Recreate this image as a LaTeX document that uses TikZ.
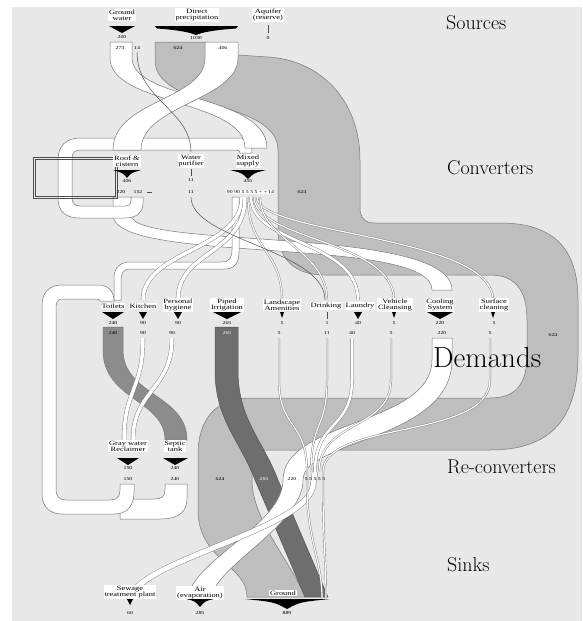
\documentclass[tikz,border=0pt]{standalone}
\usepackage{fontspec}
\newfontfamily\lblfont[FakeStretch=1.3]{Liberation Serif}
\definecolor{bgc}{HTML}{E8E8E8}
\definecolor{gA}{HTML}{BEBEBE}
\definecolor{gD}{HTML}{6E6E6E}
\definecolor{gT}{HTML}{8C8C8C}
\definecolor{edgec}{HTML}{787878}
\tikzset{
  wb/.style={fill=white, draw=edgec, line width=0.5pt},
  gb/.style={fill=gA, draw=edgec, line width=0.5pt},
  db/.style={fill=gD, draw=edgec!70!black, line width=0.5pt},
  tb/.style={fill=gT, draw=edgec, line width=0.5pt},
  tband/.style={draw=edgec, line width=0.4pt, double=white, double distance=#1},
  tband/.default=1.6pt,
  dline/.style={draw=black!70, line width=0.5pt},
  lbl/.style={fill=white, inner sep=0.8pt, align=center, font=\lblfont\fontsize{6.5}{6}\selectfont},
  num/.style={inner sep=0pt, font=\lblfont\fontsize{4.5}{4.5}\selectfont},
  title/.style={anchor=west, inner sep=0pt, font=\fontsize{20}{20}\selectfont},
  tri/.style={fill=black},
}
\begin{document}
\begin{tikzpicture}[x=1pt,y=-1pt]
\useasboundingbox (0,0) rectangle (582,621);
\fill[white] (0,0) rectangle (582,621);
\fill[bgc] (12,7) rectangle (582,621);

% ---- 624 band (precipitation -> ground)
\path[gb] (155,42) -- (155,60) .. controls (155,110) and (278,100) .. (278,150) -- (278,230) .. controls (278,260) and (295,275) .. (325,275) -- (490,275) .. controls (515,275) and (527,290) .. (527,320) -- (527,355) .. controls (527,385) and (515,398) .. (490,398) -- (250,398) .. controls (215,398) and (198,420) .. (198,455) -- (198,510) .. controls (198,560) and (247,565) .. (247,597) -- (305,597) .. controls (290,560) and (252,520) .. (252,480) -- (252,465) .. controls (252,455) and (258,450) .. (268,450) -- (490,450) .. controls (550,450) and (578,420) .. (578,355) -- (578,300) .. controls (578,250) and (555,223) .. (500,223) -- (375,223) .. controls (365,223) and (360,218) .. (360,208) -- (360,160) .. controls (360,100) and (320,60) .. (268,57) -- (238,55) .. controls (220,54) and (205,50) .. (205,42) -- cycle;

% ---- toilets -> septic
\path[tb] (103,327) -- (103,350) .. controls (103,400) and (165,400) .. (165,440) -- (187,440) .. controls (187,395) and (123,395) .. (123,350) -- (123,327) -- cycle;
% ---- piped irrigation -> ground
\path[db] (215,327) -- (215,370) .. controls (215,420) and (240,440) .. (255,480) -- (305,597) -- (328,597) -- (278,480) .. controls (263,440) and (238,420) .. (238,370) -- (238,327) -- cycle;

% ---- white bands
\path[wb] (113,197) -- (113,215) .. controls (113,265) and (432,235) .. (432,290) -- (452,290) .. controls (452,225) and (131,250) .. (131,215) -- (131,197) -- cycle;
\path[wb] (131,197) -- (131,200) .. controls (131,204) and (129,206) .. (125,206) -- (80,206) .. controls (75,206) and (72,203) .. (72,198) -- (72,158) .. controls (72,153) and (75,150) .. (80,150) -- (236,150) .. controls (239,150) and (240,151) .. (240,153) -- (252,153) .. controls (252,143) and (248,138) .. (238,138) -- (80,138) .. controls (66,138) and (58,146) .. (58,160) -- (58,198) .. controls (58,212) and (66,218) .. (80,218) -- (125,218) .. controls (137,218) and (143,212) .. (143,203) -- (143,197) -- cycle;
\path[wb] (165,484) -- (165,490) .. controls (165,496) and (162,499) .. (155,499) -- (120,499) -- (120,519) -- (160,519) .. controls (180,519) and (187,511) .. (187,498) -- (187,484) -- cycle;
\path[wb] (120,484) -- (120,490) .. controls (120,497) and (117,500) .. (110,500) -- (66,500) .. controls (60,500) and (56,497) .. (56,490) -- (56,307) .. controls (56,302) and (58,299) .. (62,299) -- (96,299) .. controls (99,299) and (100,300) .. (100,301) -- (114,301) .. controls (114,291) and (108,285) .. (98,285) -- (62,285) .. controls (50,285) and (42,292) .. (42,305) -- (42,494) .. controls (42,507) and (50,514) .. (62,514) -- (114,514) .. controls (128,514) and (134,505) .. (134,492) -- (134,484) -- cycle;
\path[wb] (232,197) -- (232,250) .. controls (232,258) and (229,262) .. (222,262) -- (130,262) .. controls (120,262) and (114,268) .. (114,278) -- (114,300) -- (121,300) -- (121,280) .. controls (121,273) and (124,269) .. (130,269) -- (225,269) .. controls (235,269) and (239,262) .. (239,252) -- (239,197) -- cycle;
\path[wb] (432,338) -- (432,360) .. controls (432,425) and (283,420) .. (283,480) .. controls (283,525) and (192,560) .. (188,598) -- (211,598) .. controls (216,565) and (303,525) .. (303,480) .. controls (303,440) and (452,440) .. (452,360) -- (452,338) -- cycle;
\path[wb] (110,42) -- (110,58) .. controls (110,105) and (245,100) .. (245,148) -- (267,148) .. controls (267,95) and (132,100) .. (132,58) -- (132,42) -- cycle;
\path[wb] (205,42) -- (205,58) .. controls (205,100) and (113,100) .. (113,150) -- (141,150) .. controls (141,105) and (238,100) .. (238,58) -- (238,42) -- cycle;

\draw[dline, line width=0.4pt] (33,157) rectangle (117,198);
\draw[dline, line width=0.4pt] (35,159) rectangle (115,196);

\coordinate (m2) at (242,197); \coordinate (m3) at (245,197); \coordinate (m4) at (248,197);
\coordinate (m5) at (251,197); \coordinate (m6) at (254,197); \coordinate (m7) at (257,197);
\coordinate (m8) at (260,197);
\coordinate (dKi) at (143,300); \coordinate (dPh) at (178,300); \coordinate (dLa) at (282,300);
\coordinate (dLn) at (358,300); \coordinate (dVc) at (394,300); \coordinate (dSc) at (493,300);
\coordinate (dDr) at (327,300);
\draw[tband=3.5pt] (m2) .. controls (242,250) and (143,250) .. (dKi);
\draw[tband=3.5pt] (m3) .. controls (245,255) and (178,250) .. (dPh);
\draw[tband=1.2pt] (m4) .. controls (248,250) and (282,250) .. (dLa);
\draw[tband=2.5pt] (m5) .. controls (251,245) and (358,240) .. (dLn);
\draw[tband=1.2pt] (m6) .. controls (254,240) and (394,240) .. (dVc);
\draw[tband=1.2pt] (m7) .. controls (257,235) and (493,235) .. (dSc);
\draw[tband=1.2pt] (m8) .. controls (260,240) and (327,250) .. (dDr);

\coordinate (gw14) at (137,52); \coordinate (wpIn) at (191,152);
\coordinate (wpOut) at (191,197); \coordinate (dDr2) at (325,300);
\draw[dline] (gw14) .. controls (137,100) and (191,110) .. (wpIn);
\draw[dline] (wpOut) .. controls (191,240) and (325,250) .. (dDr2);

\coordinate (oKi) at (143,338); \coordinate (oPh) at (172,338);
\coordinate (gwA) at (124,440); \coordinate (gwB) at (133,440);
\draw[tband=3.5pt] (oKi) .. controls (143,390) and (124,390) .. (gwA);
\draw[tband=3.5pt] (oPh) .. controls (172,390) and (133,390) .. (gwB);
\coordinate (oLa) at (279,338); \coordinate (oDr) at (327,338); \coordinate (oLn) at (352,338);
\coordinate (oVc) at (391,338); \coordinate (oSc) at (490,338);
\coordinate (rLa) at (307,472); \coordinate (rDr) at (311,472); \coordinate (rLn) at (315,472);
\coordinate (rVc) at (319,472); \coordinate (rSc) at (323,472);
\draw[tband=1.2pt] (oLa) -- (279,380) .. controls (279,430) and (307,420) .. (rLa);
\draw[tband=1.2pt] (oDr) -- (327,380) .. controls (327,430) and (311,420) .. (rDr);
\draw[tband=2.5pt] (oLn) -- (352,380) .. controls (352,430) and (315,420) .. (rLn);
\draw[tband=1.2pt] (oVc) -- (391,380) .. controls (391,430) and (319,420) .. (rVc);
\draw[tband=1.2pt] (oSc) -- (490,380) .. controls (490,440) and (323,420) .. (rSc);
\coordinate (sw) at (130,598); \coordinate (gr1) at (322,598); \coordinate (gr2) at (326,598);
\draw[tband=5pt] (rLn) -- (313,486) .. controls (305,530) and (140,560) .. (sw);
\draw[tband=1.2pt] (rLa) -- (307,486) .. controls (307,540) and (322,560) .. (gr1);
\draw[tband=1.2pt] (rSc) -- (323,486) .. controls (323,540) and (326,560) .. (gr2);

\node[lbl] (gw) at (122,15) {Ground\\water};
\node[lbl] (dp) at (197,15) {Direct\\precipitation};
\node[lbl] (aq) at (268,15) {Aquifer\\(reserve)};
\fill[tri] (109,26) -- (135,26) -- (122,33) -- cycle;
\fill[tri] (155,26) -- (238,26) -- (236,28.5) .. controls (215,30) and (203,32) .. (196,35) .. controls (189,32) and (177,30) .. (157,28.5) -- cycle;
\draw[dline] (268,25) -- (268,33);
\node[num] (n260) at (122,37) {260};
\node[num] (n1030) at (196,38) {1030};
\node[num] (n0) at (268,38) {0};
\node[num] (n273) at (120,48) {273};
\node[num] (n14) at (137,48) {14};
\node[num] (n624a) at (178,48) {624};
\node[num] (n406a) at (223,48) {406};

\node[lbl] (rc) at (127,161) {Roof \&\\cistern};
\node[lbl] (wp) at (191,161) {Water\\purifier};
\node[lbl] (ms) at (248,161) {Mixed\\supply};
\fill[tri] (113,170) -- (141,170) .. controls (131,173) .. (127,178) .. controls (123,173) .. (113,170) -- cycle;
\fill[tri] (230,170) -- (266,170) .. controls (254,173) .. (248,179) .. controls (242,173) .. (230,170) -- cycle;
\draw[dline] (191,169) -- (191,176);
\node[num] (n406b) at (127,181) {406};
\node[num] (n11a) at (191,180) {11};
\node[num] (n455) at (248,181) {455};
\node[num] (n220a) at (121,192) {220};
\node[num] (n152) at (138,192) {152};
\draw[dline, line width=0.4pt] (147,192) -- (152,192);
\node[num] (n11b) at (191,192) {11};
\node[num, fill=white, inner sep=0.5pt] (nms) at (247,192) {90 90 5 5 5 5 + +};
\node[num, fill=white, inner sep=0.5pt] (n14b) at (271,192) {14};
\node[num] (n624b) at (302,192) {624};

\node[lbl] (to) at (113,306) {Toilets};
\node[lbl] (ki) at (143,306) {Kitchen};
\node[lbl] (ph) at (178,305) {Personal\\hygiene};
\node[lbl] (pi) at (227,305) {Piped\\Irrigation};
\node[lbl] (la) at (282,305) {Landscape\\Amenities};
\node[lbl] (dr) at (326,306) {Drinking};
\node[lbl] (ln) at (360,306) {Laundry};
\node[lbl] (vc) at (395,305) {Vehicle\\Cleansing};
\node[lbl] (cs) at (440,305) {Cooling\\System};
\node[lbl] (sc) at (494,305) {Surface\\cleaning};
\fill[tri] (102,312) -- (124,312) -- (113,319) -- cycle;
\fill[tri] (139,312) -- (147,312) -- (143,319) -- cycle;
\fill[tri] (174,312) -- (182,312) -- (178,319) -- cycle;
\fill[tri] (213,312) -- (241,312) -- (227,319) -- cycle;
\fill[tri] (280,312) -- (284,312) -- (282,318) -- cycle;
\draw[dline] (327,312) -- (327,319);
\fill[tri] (354,312) -- (362,312) -- (358,319) -- cycle;
\fill[tri] (392,312) -- (396,312) -- (394,318) -- cycle;
\fill[tri] (427,312) -- (453,312) -- (440,319) -- cycle;
\fill[tri] (491,312) -- (495,312) -- (493,318) -- cycle;
\node[num] (t1) at (113,323) {240};
\node[num] (t2) at (143,323) {90};
\node[num] (t3) at (178,323) {90};
\node[num] (t4) at (227,323) {265};
\node[num] (t5) at (282,323) {5};
\node[num] (t6) at (327,323) {1};
\node[num] (t7) at (358,323) {40};
\node[num] (t8) at (394,323) {5};
\node[num] (t9) at (440,323) {220};
\node[num] (t10) at (494,323) {5};
\node[num] (b1) at (113,333) {240};
\node[num] (b2) at (143,333) {90};
\node[num] (b3) at (172,333) {90};
\node[num, text=white] (b4) at (227,333) {265};
\node[num] (b5) at (279,333) {5};
\node[num] (b6) at (327,333) {11};
\node[num] (b7) at (352,333) {40};
\node[num] (b8) at (391,333) {5};
\node[num] (b9) at (442,333) {220};
\node[num] (b10) at (490,333) {5};
\node[num] (n624c) at (553,335) {624};

\node[lbl] (gr) at (128,446) {Gray water\\Reclaimer};
\node[lbl] (st) at (175,446) {Septic\\tank};
\fill[tri] (117,458) -- (139,458) -- (128,465) -- cycle;
\fill[tri] (163,458) -- (188,458) -- (175,465) -- cycle;
\node[num] (r1) at (128,468) {150};
\node[num] (r2) at (175,468) {240};
\node[num] (r3) at (128,479) {150};
\node[num] (r4) at (175,479) {240};
\node[num] (r5) at (220,479) {624};
\node[num, text=white] (r6) at (264,479) {265};
\node[num] (r7) at (292,479) {220};
\node[num] (r8) at (315,479) {5 5 5 5 5};

\node[lbl] (sk1) at (130,592) {Sewage\\treatment plant};
\node[lbl] (sk2) at (200,593) {Air\\(evaporation)};
\node[lbl] (sk3) at (283,593) {Ground};
\fill[tri] (127,599) -- (133,599) -- (130,605) -- cycle;
\fill[tri] (186,599) -- (214,599) .. controls (205,601) .. (200,607) .. controls (195,601) .. (186,599) -- cycle;
\fill[tri] (245,599) -- (330,599) .. controls (300,602) .. (287,609) .. controls (274,602) .. (245,599) -- cycle;
\node[num] (s1) at (130,613) {60};
\node[num] (s2) at (200,613) {285};
\node[num] (s3) at (287,613) {889};

\node[title] (T1) at (446,23) {Sources};
\node[title] (T2) at (447,168) {Converters};
\node[title, font=\fontsize{29}{29}\selectfont] (T3) at (433,358) {Demands};
\node[title] (T4) at (447,467) {Re-converters};
\node[title] (T5) at (447,565) {Sinks};
\end{tikzpicture}
\end{document}
